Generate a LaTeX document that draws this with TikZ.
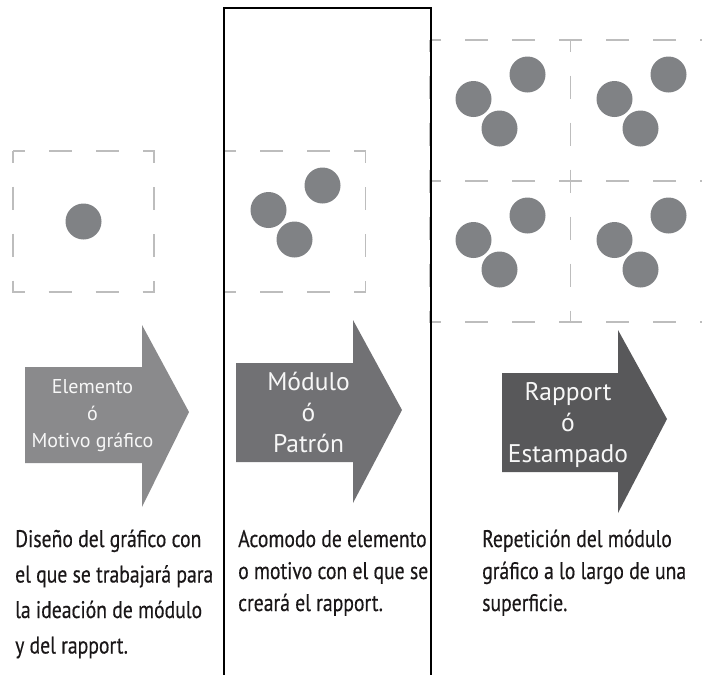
\documentclass[tikz,border=0pt]{standalone}
\usepackage{fontspec}
\setmainfont{PT Sans}
\newfontfamily\condfont[FakeStretch=0.82,FakeBold=0.4]{PT Sans}
\definecolor{dotgray}{HTML}{808285}
\definecolor{boxgray}{HTML}{BDBDBD}
\definecolor{arrowA}{HTML}{8A8A8C}
\definecolor{arrowB}{HTML}{717174}
\definecolor{arrowC}{HTML}{58585A}
\definecolor{inktext}{HTML}{1A1718}
\tikzset{
  dashbox/.style={draw=boxgray, line width=1.4pt, dash pattern=on 23pt off 24pt, dash phase=11.5pt},
  dot/.style={circle, fill=dotgray, minimum size=36pt, inner sep=0pt, draw=none},
  atext/.style={text=white!94!gray, inner sep=0pt, anchor=base},
  caption/.style={text=inktext, inner sep=0pt, anchor=base west, font=\condfont\fontsize{24pt}{35.5pt}\selectfont},
  frameline/.style={draw=black, line width=1.8pt}
}
\begin{document}
\begin{tikzpicture}[x=1pt,y=-1pt]
\useasboundingbox (0,0) rectangle (702,675);
\clip (0,0) rectangle (702,675);
% dashed boxes
\draw[dashbox] (13,151) rectangle ++(141,141);
\draw[dashbox] (224.5,151) rectangle ++(141,141);
\draw[dashbox] (429.5,40) rectangle ++(141,141);
\draw[dashbox] (570.5,40) rectangle ++(141,141);
\draw[dashbox] (429.5,181) rectangle ++(141,141);
\draw[dashbox] (570.5,181) rectangle ++(141,141);
% element
\node[dot] (e1) at (83.5,221.5) {};
% motifs
\foreach \bx/\by/\nm in {224.5/151/m, 429.5/40/ga, 570.5/40/gb, 429.5/181/gc, 570.5/181/gd}{
  \node[dot] (\nm1) at (\bx+44,\by+59) {};
  \node[dot] (\nm2) at (\bx+98,\by+34.5) {};
  \node[dot] (\nm3) at (\bx+70,\by+88.5) {};
}
% arrows
\fill[arrowA] (25,367) -- (142,367) -- (142,325) -- (189,412) -- (142,507) -- (142,463) -- (25,463) -- cycle;
\fill[arrowB] (236,363) -- (353,363) -- (353,320) -- (402,410) -- (353,503) -- (353,462) -- (236,462) -- cycle;
\fill[arrowC] (502,373) -- (618,373) -- (618,330) -- (667,419) -- (618,513) -- (618,472) -- (502,472) -- cycle;
\node[atext, font=\fontsize{20pt}{27pt}\selectfont] (a1) at (92.5,393) {\parbox[t]{160pt}{\centering Elemento\\ ó\\ Motivo gráfico}};
\node[atext, font=\fontsize{25.5pt}{31pt}\selectfont] (a2) at (308.5,390) {\parbox[t]{160pt}{\centering Módulo\\ ó\\ Patrón}};
\node[atext, font=\fontsize{25.5pt}{31pt}\selectfont] (a3) at (568,400) {\parbox[t]{160pt}{\centering Rapport\\ ó\\ Estampado}};
% captions
\node[caption] (t1) at (15,547) {\parbox[t]{260pt}{Diseño del gráfico con\\ el que se trabajará para\\ la ideación de módulo\\ y del rapport.}};
\node[caption, font=\condfont\fontsize{24pt}{32pt}\selectfont] (t2) at (238,547) {\parbox[t]{260pt}{Acomodo de elemento\\ o motivo con el que se\\ creará el rapport.}};
\node[caption, font=\condfont\fontsize{24pt}{32pt}\selectfont] (t3) at (482,547) {\parbox[t]{260pt}{Repetición del módulo\\ gráfico a lo largo de una\\ superficie.}};
% frame
\coordinate (fbl) at (224,680);
\coordinate (ftl) at (224,8);
\coordinate (ftr) at (431,8);
\coordinate (fbr) at (431,680);
\draw[frameline] (fbl) -- (ftl) -- (ftr) -- (fbr);
\end{tikzpicture}
\end{document}
